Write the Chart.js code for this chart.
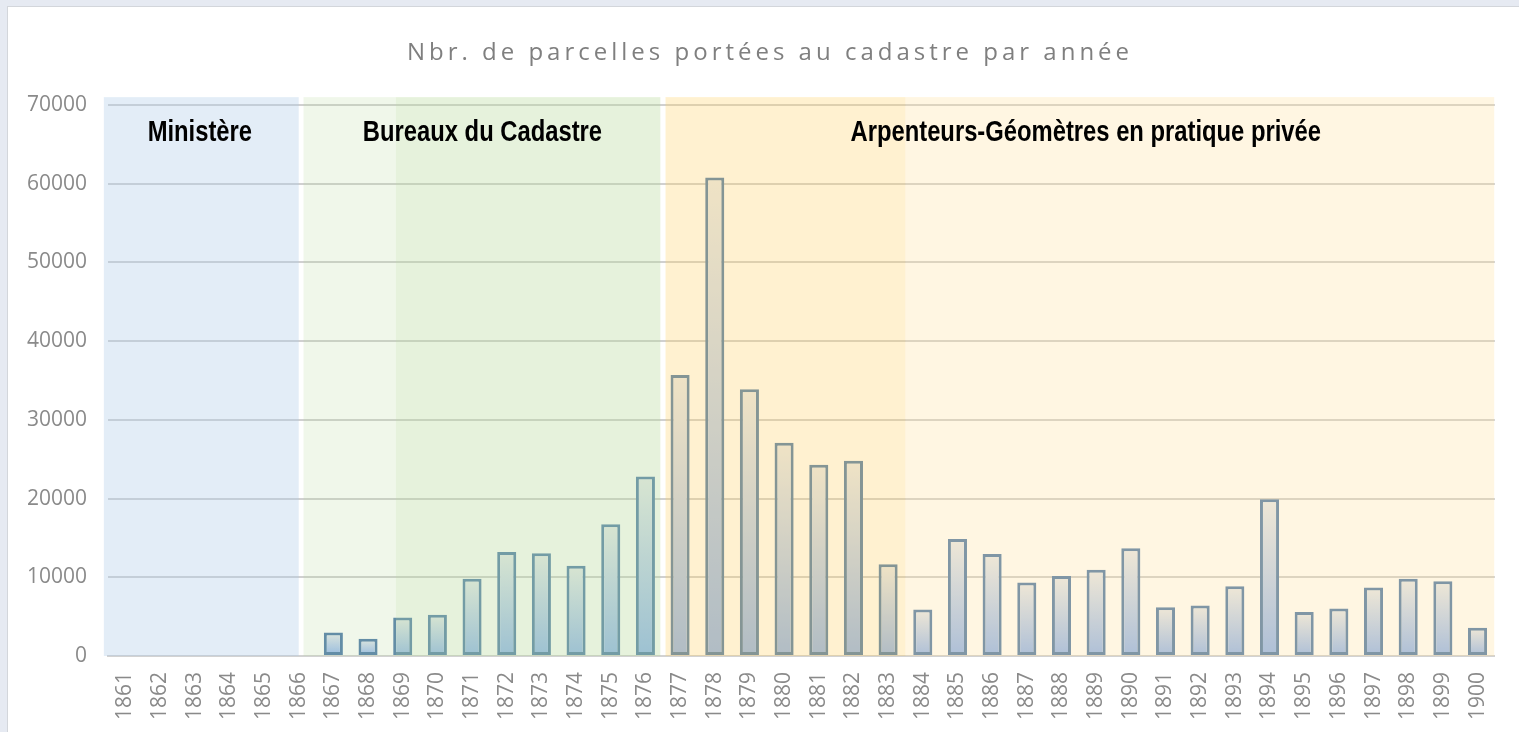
<!DOCTYPE html>
<html>
<head>
<meta charset="utf-8">
<script src="https://cdn.jsdelivr.net/npm/chart.js@4"></script>
<style>
  html, body { margin: 0; padding: 0; }
  body { width: 1519px; height: 732px; overflow: hidden; background: #e6eaf2; position: relative; }
  .card { position: absolute; left: 7px; top: 6px; width: 1540px; height: 760px; background: #fff; border: 1px solid #d3d6db; }
  #chart { position: absolute; left: 0; top: 0; }
</style>
</head>
<body>
<div class="card"></div>
<canvas id="chart" width="1519" height="732"></canvas>
<script>
// years on the x axis
const years = [];
for (let y = 1861; y <= 1900; y++) years.push(String(y));

const parcels = [
  null, null, null, null, null, null,
  3000, 2200, 4900, 5250, 9800, 13200, 13050, 11450, 16750, 22800,
  35700, 60800, 33900, 27100, 24300, 24800, 11650,
  5900, 14850, 12950, 9350, 10150, 10950, 13700, 6200, 6400, 8850, 19900,
  5600, 6050, 8700, 9800, 9500, 3600
];

const yTicks = [0, 10000, 20000, 30000, 40000, 50000, 60000, 70000];

// periods shown as shaded bands (in year units)
const periodNames = ['Ministère', 'Bureaux du Cadastre', 'Arpenteurs-Géomètres en pratique privée'];
const bandFrom = [1860.38, 1866.14, 1868.8, 1876.58, 1883.5];
const bandTo   = [1866.0, 1868.8, 1876.43, 1883.5, 1900.48];
const bandColors = [
  'rgba(175,204,232,0.35)',
  'rgba(180,215,150,0.2)',
  'rgba(184,218,155,0.35)',
  'rgba(255,210,100,0.3)',
  'rgba(255,222,150,0.28)'
];
// label centre of each period, in year units
const periodCentre = [1863.15, 1871.3, 1888.7];

const TITLE = 'Nbr. de parcelles portées au cadastre par année';

function yearPos(scale, yr) {
  return scale.getPixelForValue(yr - 1861);
}

const bandsPlugin = {
  id: 'bands',
  afterDatasetsDraw(chart) {
    const { ctx, scales: { x, y } } = chart;
    const top = y.getPixelForValue(71000);
    const bottom = y.getPixelForValue(0);
    ctx.save();
    bandFrom.forEach((f, i) => {
      const l = yearPos(x, f), r = yearPos(x, bandTo[i]);
      ctx.fillStyle = bandColors[i];
      ctx.fillRect(l, top, r - l, bottom - top);
    });
    // period labels, narrow bold
    ctx.fillStyle = '#000';
    ctx.font = 'bold 29px "Liberation Sans", Arial, sans-serif';
    ctx.textAlign = 'center';
    ctx.textBaseline = 'alphabetic';
    const base = y.getPixelForValue(70000) + 36;
    periodNames.forEach((name, i) => {
      const cx = yearPos(x, periodCentre[i]);
      ctx.save();
      ctx.translate(cx, base);
      ctx.scale(0.82, 1);
      ctx.fillText(name, 0, 0);
      ctx.restore();
    });
    ctx.restore();
  },
  afterDraw(chart) {
    const { ctx } = chart;
    ctx.save();
    ctx.font = '24px "Open Sans", sans-serif';
    ctx.fillStyle = '#7f7f7f';
    ctx.textBaseline = 'alphabetic';
    ctx.textAlign = 'left';
    const spacing = 4;
    const chars = [...TITLE];
    const widths = chars.map(c => ctx.measureText(c).width);
    const total = widths.reduce((a, b) => a + b, 0) + spacing * (chars.length - 1);
    let px = 768 - total / 2;
    chars.forEach((c, i) => {
      ctx.fillText(c, px, 60);
      px += widths[i] + spacing;
    });
    ctx.restore();
  }
};

function barGradient(context) {
  const chart = context.chart;
  const { chartArea, scales } = chart;
  if (!chartArea || context.raw == null) return '#8fb4f0';
  const top = scales.y.getPixelForValue(context.raw);
  const base = scales.y.getPixelForValue(0);
  const g = chart.ctx.createLinearGradient(0, top, 0, base);
  g.addColorStop(0, '#e9ebef');
  g.addColorStop(1, '#8fb4f0');
  return g;
}

new Chart(document.getElementById('chart'), {
  type: 'bar',
  data: {
    labels: years,
    datasets: [{
      data: parcels,
      backgroundColor: barGradient,
      borderColor: '#4f7bab',
      borderWidth: 3,
      borderSkipped: false,
      barPercentage: 0.55,
      categoryPercentage: 1
    }]
  },
  plugins: [bandsPlugin],
  options: {
    responsive: false,
    animation: false,
    layout: { padding: { top: 105, right: 21, bottom: 0, left: 0 } },
    plugins: { legend: { display: false }, title: { display: false }, tooltip: { enabled: false } },
    scales: {
      x: {
        grid: { display: false, drawTicks: false },
        border: { display: true, color: '#d2d2d2', width: 2 },
        afterFit: s => { s.height = 76; },
        ticks: {
          autoSkip: false,
          minRotation: 90,
          maxRotation: 90,
          padding: 16,
          color: '#8a8a8a',
          font: { family: '"Open Sans", sans-serif', size: 21 }
        }
      },
      y: {
        min: 0,
        max: 70000,
        afterFit: s => { s.width = 108; },
        afterBuildTicks: s => { s.ticks = yTicks.map(v => ({ value: v })); },
        grid: { color: '#d0d0d0', lineWidth: 2, drawTicks: false },
        border: { display: false },
        ticks: {
          padding: 21,
          color: '#8a8a8a',
          font: { family: '"Open Sans", sans-serif', size: 21 },
          callback: v => String(v)
        }
      }
    }
  }
});
</script>
</body>
</html>
